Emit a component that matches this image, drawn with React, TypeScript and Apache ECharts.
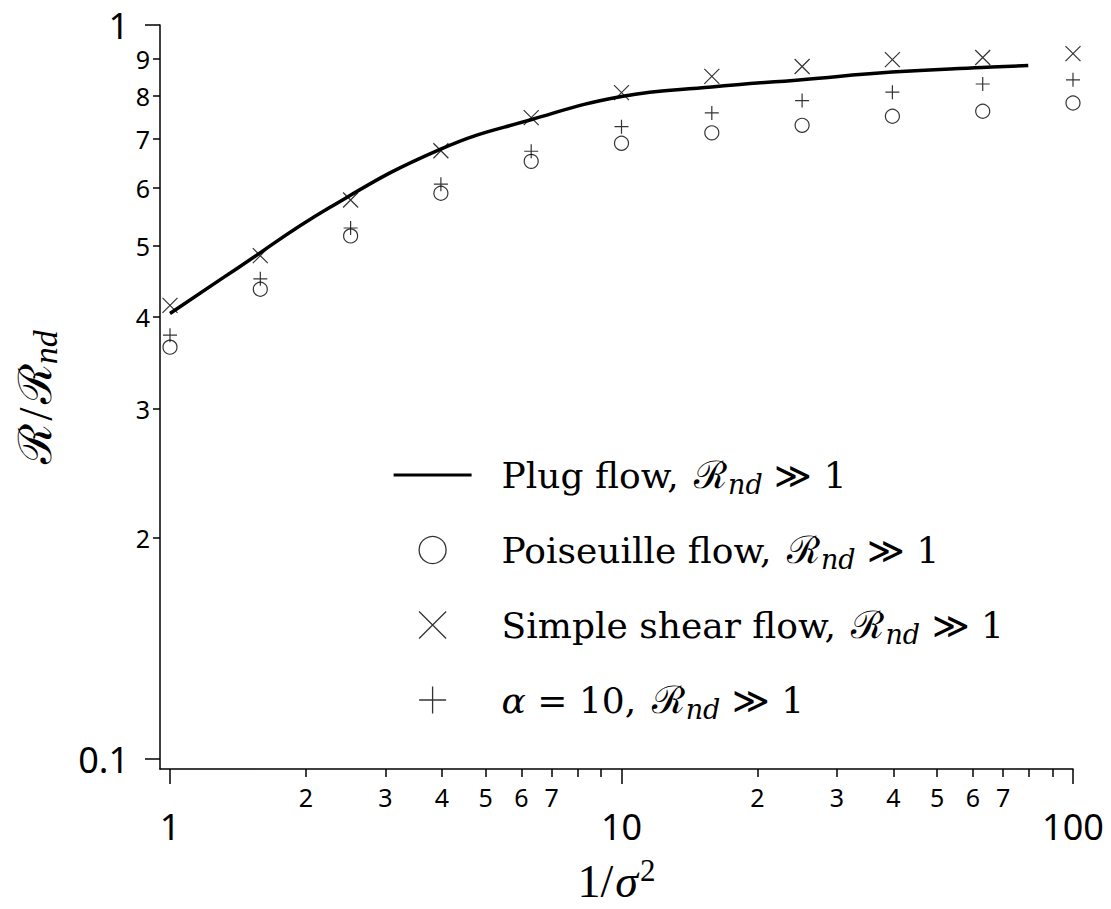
import React, { useEffect, useRef } from 'react';
import * as echarts from 'echarts';

// ---- data ----
const invSigma2 = [1, 1.585, 2.512, 3.981, 6.31, 10, 15.85, 25.12, 39.81, 63.1, 100];
const poiseuille = [0.364, 0.4365, 0.516, 0.590, 0.652, 0.690, 0.713, 0.730, 0.751, 0.763, 0.783];
const simpleShear = [0.415, 0.485, 0.5775, 0.674, 0.748, 0.809, 0.851, 0.878, 0.897, 0.903, 0.914];
const alpha10 = [0.378, 0.451, 0.529, 0.607, 0.673, 0.727, 0.759, 0.789, 0.810, 0.831, 0.842];

const plugX = [1, 1.405, 2.262, 3.977, 6.325, 10.0, 15.84, 25.06, 39.72, 62.86, 79.6];
const plugY = [0.4046, 0.4656, 0.5646, 0.6775, 0.7434, 0.7989, 0.8233, 0.8424, 0.8627, 0.8752, 0.8808];

const seriesNames = ['Plug flow', 'Poiseuille flow', 'Simple shear flow', 'α = 10'];

// ---- tick values ----
const xMajorTicks = [1, 10, 100];
const xMinorTicks = [2, 3, 4, 5, 6, 7, 8, 9, 20, 30, 40, 50, 60, 70, 80, 90];
const xMinorLabels = [2, 3, 4, 5, 6, 7, 20, 30, 40, 50, 60, 70];
const yMajorTicks = [0.1, 1];
const yMinorTicks = [0.2, 0.3, 0.4, 0.5, 0.6, 0.7, 0.8, 0.9];
const yMinorLabels = [0.2, 0.3, 0.4, 0.5, 0.6, 0.7, 0.8, 0.9];

const X_MIN = 0.9503;
const X_MAX = 100;
const Y_MIN = 0.09693;
const Y_MAX = 1;

const serif = "'Liberation Serif', 'DejaVu Serif', serif";
const legendSerif = "'DejaVu Serif', 'Liberation Serif', serif";
const scriptFont = "'DejaVu Serif', serif";
const sans = "'Noto Sans', 'Open Sans', sans-serif";

const legendLabels: Record<string, string> = {
  'Plug flow': '{gap| }{t|Plug flow, }{R|ℛ}{sub|nd}{t| ≫ 1}',
  'Poiseuille flow': '{gap| }{t|Poiseuille flow, }{R|ℛ}{sub|nd}{t| ≫ 1}',
  'Simple shear flow': '{gap| }{t|Simple shear flow, }{R|ℛ}{sub|nd}{t| ≫ 1}',
  'α = 10': '{gap| }{it|α}{t| = 10, }{R|ℛ}{sub|nd}{t| ≫ 1}',
};

const axisLineStyle = { color: '#000', width: 1.5 };

function buildOption(): any {
  return {
    animation: false,
    backgroundColor: '#fff',
    grid: { left: 160, top: 25, right: 38, bottom: 136, containLabel: false },
    xAxis: [
      {
        type: 'log',
        logBase: 10,
        min: X_MIN,
        max: X_MAX,
        position: 'bottom',
        axisLine: { show: true, lineStyle: axisLineStyle },
        axisTick: { show: true, customValues: xMajorTicks, length: 15, lineStyle: axisLineStyle },
        axisLabel: {
          customValues: xMajorTicks,
          margin: 39,
          fontSize: 36,
          fontFamily: sans,
          color: '#000',
          formatter: (v: number) => String(Math.round(v)),
        },
        minorTick: { show: false },
        splitLine: { show: false },
        name: '{n|1/}{i|σ}{sup|2}',
        nameLocation: 'middle',
        nameGap: 86,
        nameTextStyle: {
          rich: {
            n: { fontFamily: serif, fontSize: 46, lineHeight: 52, color: '#000' },
            i: { fontFamily: serif, fontStyle: 'italic', fontSize: 46, lineHeight: 52, color: '#000', padding: [0, 2, 0, 2] },
            sup: { fontFamily: serif, fontSize: 31, lineHeight: 22, verticalAlign: 'top', color: '#000' },
          },
        },
      },
      {
        type: 'log',
        logBase: 10,
        min: X_MIN,
        max: X_MAX,
        position: 'bottom',
        axisLine: { show: false },
        axisTick: { show: true, customValues: xMinorTicks, length: 8, lineStyle: axisLineStyle },
        axisLabel: {
          customValues: xMinorLabels,
          margin: 15,
          fontSize: 25,
          fontFamily: sans,
          color: '#000',
          formatter: (v: number) => String(Math.round(v >= 10 ? v / 10 : v)),
        },
        splitLine: { show: false },
      },
    ],
    yAxis: [
      {
        type: 'log',
        logBase: 10,
        min: Y_MIN,
        max: Y_MAX,
        position: 'left',
        axisLine: { show: true, lineStyle: axisLineStyle },
        axisTick: { show: true, customValues: yMajorTicks, length: 15, lineStyle: axisLineStyle },
        axisLabel: {
          customValues: yMajorTicks,
          margin: 31,
          fontSize: 36,
          fontFamily: sans,
          color: '#000',
          formatter: (v: number) => (v >= 0.99 ? '1' : '0.1'),
        },
        splitLine: { show: false },
        name: '{R|ℛ}{s|/}{R|ℛ}{sub|nd}',
        nameLocation: 'middle',
        nameRotate: 90,
        nameGap: 98,
        nameTextStyle: {
          rich: {
            R: { fontFamily: scriptFont, fontSize: 46, lineHeight: 54, color: '#000' },
            s: { fontFamily: serif, fontSize: 48, lineHeight: 54, color: '#000', padding: [0, 3, 0, 3] },
            sub: { fontFamily: serif, fontStyle: 'italic', fontSize: 34, lineHeight: 12, verticalAlign: 'bottom', color: '#000' },
          },
        },
      },
      {
        type: 'log',
        logBase: 10,
        min: Y_MIN,
        max: Y_MAX,
        position: 'left',
        axisLine: { show: false },
        axisTick: { show: true, customValues: yMinorTicks, length: 7, lineStyle: axisLineStyle },
        axisLabel: {
          customValues: yMinorLabels,
          margin: 10,
          fontSize: 25,
          fontFamily: sans,
          color: '#000',
          formatter: (v: number) => String(Math.round(v * 10)),
        },
        splitLine: { show: false },
      },
    ],
    legend: {
      orient: 'vertical',
      left: 392,
      top: 456,
      padding: 0,
      itemGap: 33,
      itemWidth: 78,
      itemHeight: 27,
      selectedMode: false,
      itemStyle: { borderWidth: 1.3 },
      lineStyle: { width: 3.2 },
      textStyle: {
        color: '#000',
        fontFamily: legendSerif,
        fontSize: 36,
        rich: {
          gap: { width: 25, fontSize: 36, lineHeight: 46 },
          t: { fontFamily: legendSerif, fontSize: 36, lineHeight: 46, color: '#000' },
          it: { fontFamily: legendSerif, fontStyle: 'italic', fontSize: 36, lineHeight: 46, color: '#000' },
          R: { fontFamily: scriptFont, fontSize: 38, lineHeight: 46, color: '#000', padding: [0, 1, 0, 4] },
          sub: { fontFamily: legendSerif, fontStyle: 'italic', fontSize: 27, lineHeight: 10, verticalAlign: 'bottom', color: '#000' },
        },
      },
      formatter: (name: string) => legendLabels[name] || name,
      data: [
        {
          name: seriesNames[0],
          itemStyle: { color: 'rgba(0,0,0,0)', borderColor: 'rgba(0,0,0,0)', borderWidth: 0 },
        },
        { name: seriesNames[1] },
        { name: seriesNames[2] },
        { name: seriesNames[3] },
      ],
    },
    series: [
      {
        type: 'line',
        name: seriesNames[0],
        data: plugX.map((x, i) => [x, plugY[i]]),
        xAxisIndex: 0,
        yAxisIndex: 0,
        symbol: 'none',
        showSymbol: false,
        smooth: 0.45,
        lineStyle: { color: '#000', width: 3.5 },
        itemStyle: { color: '#000' },
        emphasis: { disabled: true },
        silent: true,
      },
      {
        type: 'scatter',
        name: seriesNames[1],
        data: invSigma2.map((x, i) => [x, poiseuille[i]]),
        xAxisIndex: 0,
        yAxisIndex: 0,
        symbol: 'circle',
        symbolSize: 14,
        itemStyle: { color: 'rgba(0,0,0,0)', borderColor: '#000', borderWidth: 1.2 },
        emphasis: { disabled: true },
        silent: true,
      },
      {
        type: 'scatter',
        name: seriesNames[2],
        data: invSigma2.map((x, i) => [x, simpleShear[i]]),
        xAxisIndex: 0,
        yAxisIndex: 0,
        symbol: 'path://M0,0L16,16M16,0L0,16',
        symbolKeepAspect: true,
        symbolSize: 15,
        itemStyle: { color: 'rgba(0,0,0,0)', borderColor: '#000', borderWidth: 1.2 },
        emphasis: { disabled: true },
        silent: true,
      },
      {
        type: 'scatter',
        name: seriesNames[3],
        data: invSigma2.map((x, i) => [x, alpha10[i]]),
        xAxisIndex: 0,
        yAxisIndex: 0,
        symbol: 'path://M8,0L8,16M0,8L16,8',
        symbolKeepAspect: true,
        symbolSize: 14,
        itemStyle: { color: 'rgba(0,0,0,0)', borderColor: '#000', borderWidth: 1.2 },
        emphasis: { disabled: true },
        silent: true,
      },
    ],
  };
}

export default function App() {
  const ref = useRef<HTMLDivElement>(null);
  useEffect(() => {
    document.body.style.margin = '0';
    const chart = echarts.init(ref.current as HTMLDivElement, null, { renderer: 'svg' });
    chart.setOption(buildOption());
    return () => {
      chart.dispose();
    };
  }, []);
  return <div ref={ref} style={{ width: 1111, height: 909, background: '#fff' }} />;
}
